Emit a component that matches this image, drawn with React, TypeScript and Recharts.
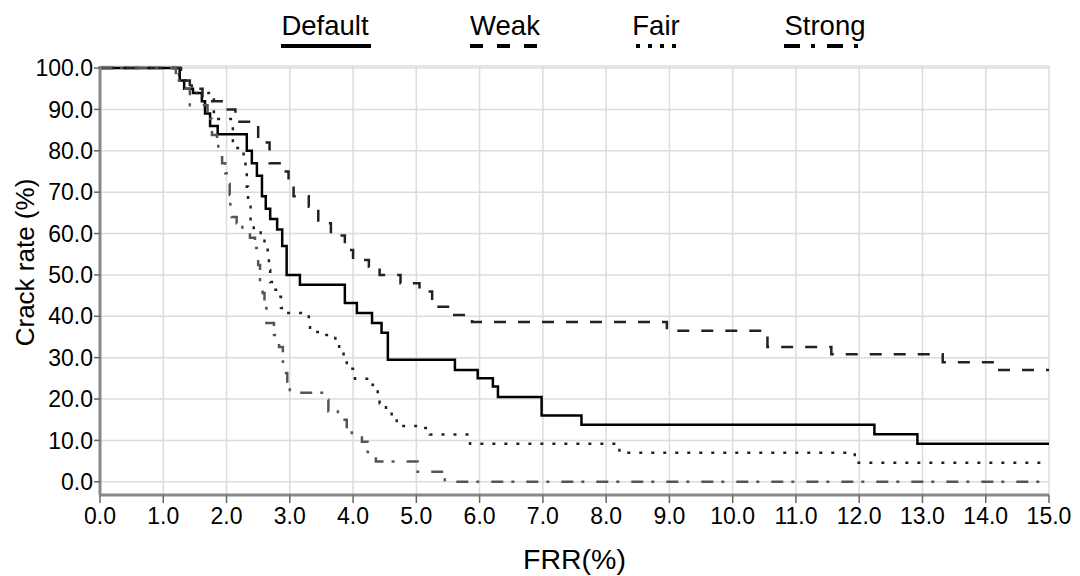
import { LineChart, Line, XAxis, YAxis, CartesianGrid } from "recharts";

// 横軸・縦軸の目盛り
const xTicks = [0, 1, 2, 3, 4, 5, 6, 7, 8, 9, 10, 11, 12, 13, 14, 15];
const yTicks = [0, 10, 20, 30, 40, 50, 60, 70, 80, 90, 100];

// [FRR, crack rate] の階段データ
const defaultCurve = [
  [0, 100], [1.26, 97], [1.33, 95], [1.47, 94], [1.61, 92], [1.66, 89], [1.74, 86],
  [1.86, 84], [2.32, 80], [2.4, 77], [2.48, 74], [2.56, 69], [2.62, 66], [2.69, 63.5],
  [2.8, 61], [2.88, 57], [2.95, 50], [3.16, 47.6], [3.87, 43.2], [4.06, 40.8],
  [4.3, 38.4], [4.45, 36], [4.55, 29.5], [5.61, 27], [5.97, 25], [6.21, 23],
  [6.29, 20.5], [6.98, 16], [7.61, 13.8], [12.24, 11.5], [12.92, 9.2], [15, 9.2],
];
const weakCurve = [
  [0, 100], [1.28, 97], [1.42, 95], [1.62, 92], [2.02, 90], [2.14, 87], [2.5, 82],
  [2.68, 77], [2.9, 75], [2.98, 73], [3.06, 69], [3.3, 66.5], [3.45, 62.5],
  [3.65, 59.5], [3.87, 56], [4.0, 53.6], [4.25, 52], [4.42, 50], [4.75, 48],
  [5.05, 46], [5.25, 42.3], [5.5, 40.3], [5.88, 38.6], [8.96, 36.5], [10.55, 32.6],
  [11.56, 30.8], [13.32, 28.9], [14.19, 27], [15, 27],
];
const fairCurve = [
  [0, 100], [1.25, 97], [1.45, 94], [1.8, 87.7], [2.1, 80.7], [2.27, 78.5], [2.3, 75.8],
  [2.32, 71.3], [2.34, 68], [2.36, 66.5], [2.38, 63], [2.43, 61], [2.54, 59],
  [2.6, 56.5], [2.65, 54], [2.67, 51.2], [2.69, 48.3], [2.74, 46.4], [2.82, 44.7],
  [2.86, 42], [2.95, 40.8], [3.3, 38.6], [3.32, 36.2], [3.55, 35.5], [3.72, 33.8],
  [3.78, 31.4], [3.85, 30], [3.9, 27.3], [4.03, 24.9], [4.31, 23.4], [4.39, 21.3],
  [4.42, 19], [4.52, 17.4], [4.61, 15.5], [4.69, 13.5], [5.1, 13], [5.21, 11.4],
  [5.85, 9.2], [8.21, 7], [11.93, 4.6], [15, 4.6],
];
const strongCurve = [
  [0, 100], [1.2, 97], [1.35, 95], [1.42, 91], [1.7, 87.7], [1.77, 83.8], [1.85, 82],
  [1.87, 79], [1.93, 77], [1.98, 74.6], [2.04, 72], [2.05, 69.3], [2.06, 66.5],
  [2.08, 64], [2.16, 62.5], [2.25, 60.4], [2.37, 59], [2.45, 56.5], [2.5, 52.4],
  [2.53, 48.8], [2.57, 45.6], [2.6, 42], [2.63, 38.4], [2.75, 35.5], [2.83, 32.6],
  [2.89, 29], [2.94, 26.3], [2.96, 23], [3.0, 21.5], [3.59, 19.8], [3.61, 17],
  [3.76, 15], [3.9, 12.6], [3.98, 11.8], [4.14, 9.7], [4.23, 7.2], [4.36, 4.9],
  [5.02, 2.4], [5.45, 0], [15, 0],
];

const toPoints = (c: number[][]) => c.map(([x, y]) => ({ x, y }));

const FONT = "'Liberation Sans', Arial, sans-serif";

const series = [
  { name: "Default", data: defaultCurve, color: "#000", dash: undefined, width: 2.5 },
  { name: "Weak", data: weakCurve, color: "#222", dash: "12 12", width: 2.5 },
  { name: "Fair", data: fairCurve, color: "#222", dash: "3 9", width: 2.5 },
  { name: "Strong", data: strongCurve, color: "#555", dash: "12 8 3 12", width: 2.5 },
];

// 凡例 (上部に横並び)
const legendSpots = [
  { cx: 325, lx: 281, lw: 90, dash: undefined },
  { cx: 505, lx: 470, lw: 70, dash: "13 14" },
  { cx: 656, lx: 636, lw: 40, dash: "4 8" },
  { cx: 825, lx: 784, lw: 74, dash: "16 11 4 12" },
];

const TopLegend = () => (
  <svg width={1080} height={60} style={{ position: "absolute", left: 0, top: 0 }}>
    {series.map((s, i) => {
      const p = legendSpots[i];
      return (
        <g key={s.name}>
          <text x={p.cx} y={35} textAnchor="middle" fontSize={27.5} fontFamily={FONT} fill="#000">
            {s.name}
          </text>
          <line
            x1={p.lx}
            x2={p.lx + p.lw}
            y1={46}
            y2={46}
            stroke="#000"
            strokeWidth={4}
            strokeDasharray={p.dash}
          />
        </g>
      );
    })}
  </svg>
);

const YTitle = (props: any) => {
  const vb = props.viewBox || { y: 66, height: 429 };
  const cx = 25;
  const cy = vb.y + vb.height / 2 - 18;
  return (
    <text
      x={cx}
      y={cy}
      transform={`rotate(-90 ${cx} ${cy})`}
      textAnchor="middle"
      dominantBaseline="central"
      fontSize={26}
      fontFamily={FONT}
      fill="#000"
    >
      Crack rate (%)
    </text>
  );
};

export default function App() {
  return (
    <div style={{ position: "absolute", left: 0, top: 0, width: 1080, height: 576, background: "#fff" }}>
      <LineChart width={1080} height={576} margin={{ top: 66, right: 31, left: 0, bottom: 0 }}>
        <CartesianGrid stroke="#dcdcdc" strokeWidth={1.5} />
        <XAxis
          type="number"
          dataKey="x"
          domain={[0, 15]}
          ticks={xTicks}
          allowDuplicatedCategory={false}
          tickFormatter={(v: number) => v.toFixed(1)}
          height={81}
          axisLine={{ stroke: "#888", strokeWidth: 3 }}
          tickLine={{ stroke: "#666", strokeWidth: 1.5 }}
          tickSize={8}
          tickMargin={5}
          tick={{ fontSize: 23, fill: "#000", fontFamily: FONT }}
          label={{ value: "FRR(%)", position: "insideBottom", offset: 7, fontSize: 28.5, fill: "#000", fontFamily: FONT }}
        />
        <YAxis
          type="number"
          dataKey="y"
          domain={[-3.2, 100.5]}
          ticks={yTicks}
          tickFormatter={(v: number) => v.toFixed(1)}
          width={100}
          axisLine={{ stroke: "#888", strokeWidth: 3 }}
          tickLine={{ stroke: "#666", strokeWidth: 1.5 }}
          tickSize={6}
          tickMargin={1}
          tick={{ fontSize: 23, fill: "#000", fontFamily: FONT }}
          label={{ content: (p: any) => <YTitle {...p} /> }}
        />
        {series.map((s) => (
          <Line
            key={s.name}
            name={s.name}
            data={toPoints(s.data)}
            dataKey="y"
            type="stepAfter"
            stroke={s.color}
            strokeWidth={s.width}
            strokeDasharray={s.dash}
            dot={false}
            activeDot={false}
            isAnimationActive={false}
          />
        ))}
      </LineChart>
      <TopLegend />
    </div>
  );
}
